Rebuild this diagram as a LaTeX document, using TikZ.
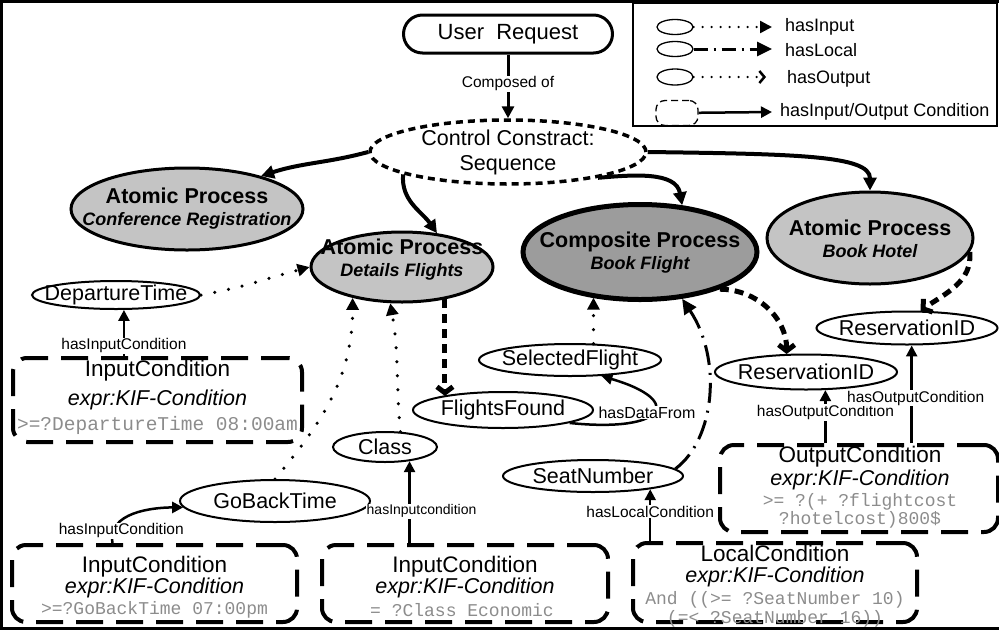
\documentclass[tikz,border=0pt]{standalone}
\usepackage{fontspec}
\setmainfont{Liberation Sans}
\setmonofont{Liberation Mono}
\usepackage{tikz}
\usetikzlibrary{shapes,arrows.meta}
\definecolor{procgray}{HTML}{C4C4C4}
\definecolor{compgray}{HTML}{9C9C9C}
\definecolor{codegray}{HTML}{8C8C8C}
\tikzstyle{Start} = [draw, rectangle, rounded corners=19pt, line width=3pt, minimum width=209pt, minimum height=38pt, font=\fontsize{22}{24}\selectfont]
\tikzstyle{Control} = [draw, ellipse, line width=3.5pt, dash pattern=on 7pt off 5pt, minimum width=276pt, minimum height=64pt, inner sep=0pt]
\tikzstyle{Process} = [draw, ellipse, fill=procgray, line width=3pt, inner sep=0pt]
\tikzstyle{Composite} = [Process, fill=compgray, line width=5pt]
\tikzstyle{Term} = [draw, ellipse, line width=2pt, inner sep=0pt]
\tikzstyle{Cond} = [draw, rectangle, rounded corners=14pt, line width=4pt, dash pattern=on 27pt off 13pt, inner sep=0pt]
\tikzstyle{Big} = [align=center, font=\fontsize{21.5}{25}\selectfont]
\tikzstyle{ProcText} = [align=center, font=\bfseries\fontsize{21.5}{22}\selectfont]
\tikzstyle{TermText} = [inner sep=0pt, font=\fontsize{21.5}{24}\selectfont]
\tikzstyle{Title} = [inner sep=0pt, font=\fontsize{22.5}{24}\selectfont]
\tikzstyle{Expr} = [inner sep=0pt, font=\itshape\fontsize{21.5}{24}\selectfont]
\tikzstyle{Code} = [inner sep=0pt, text=codegray, font=\ttfamily\fontsize{18}{20}\selectfont]
\tikzstyle{EdgeLabel} = [fill=white, inner sep=1pt, font=\fontsize{15.5}{17}\selectfont]
\tikzstyle{LegText} = [anchor=west, inner sep=0pt, font=\fontsize{18}{20}\selectfont]
\tikzstyle{CtrlArrow} = [line width=4pt, -{Triangle[length=13pt,width=13pt]}]
\tikzstyle{InArrow} = [line width=3.5pt, line cap=round, dash pattern=on 0pt off 14pt, -{Triangle[length=12pt,width=12pt]}]
\tikzstyle{OutArrow} = [line width=5pt, dash pattern=on 9pt off 6pt, -{Straight Barb[length=6pt,width=16pt]}]
\tikzstyle{LocalArrow} = [line width=3pt, dash pattern=on 20pt off 8pt on 2pt off 8pt, -{Triangle[length=15pt,width=14pt]}]
\tikzstyle{CondArrow} = [line width=2.5pt, -{Triangle[length=11pt,width=11pt]}]
\begin{document}
\begin{tikzpicture}[x=1pt,y=1pt]
    \useasboundingbox (0,0) rectangle (999,-630);
    % frame
    \draw[line width=3pt] (0,-1.5) -- (999,-1.5);
    \draw[line width=3pt] (1.5,0) -- (1.5,-630);
    \draw[line width=3pt] (0,-628) -- (999,-628);

    % request and control construct
    \node[Start] (request) at (508,-34) {User~~Request};
    \node[Control] (ctrl) at (508,-152) {};
    \node[Big] (ctrl-t) at (508,-152.5) {Control Constract:\\Sequence};
    \draw[line width=3pt, -{Triangle[length=12pt,width=12pt]}] (request) -- node[EdgeLabel, pos=0.46] (composed) {Composed of} (ctrl);

    % processes
    \node[Process, minimum width=232pt, minimum height=82pt] (reg) at (187,-209) {};
    \node[ProcText] (reg-t) at (187,-208.5) {Atomic Process\\{\itshape\fontsize{18}{18}\selectfont Conference Registration}};
    \node[Process, minimum width=182pt, minimum height=70pt] (det) at (402,-267) {};
    \node[ProcText] (det-t) at (402,-259.5) {Atomic Process\\{\itshape\fontsize{18}{18}\selectfont Details Flights}};
    \node[Composite, minimum width=234pt, minimum height=95pt] (comp) at (640,-252) {};
    \node[ProcText] (comp-t) at (640,-252.5) {Composite Process\\{\itshape\fontsize{18}{18}\selectfont Book Flight}};
    \node[Process, minimum width=206pt, minimum height=92pt] (hotel) at (870,-238) {};
    \node[ProcText] (hotel-t) at (870,-239) {Atomic Process\\{\itshape\fontsize{18}{18}\selectfont Book Hotel}};

    \draw[CtrlArrow] (ctrl.west) to[out=195,in=18] (reg.24);
    \draw[CtrlArrow] (ctrl.192) to[out=-95,in=125] (det.44);
    \draw[CtrlArrow] (ctrl.-16) to[out=5,in=100] (comp.48);
    \draw[CtrlArrow] (ctrl.east) .. controls +(150,-2) and +(0,35) .. (hotel.north);

    % parameters
    \node[Term, minimum width=168pt, minimum height=28pt] (dep) at (116,-295) {};
    \node[TermText] (dep-t) at (dep) {DepartureTime};
    \node[Term, minimum width=180pt, minimum height=36pt] (found) at (503,-410) {};
    \node[TermText] (found-t) at (found) {FlightsFound};
    \node[Term, minimum width=182pt, minimum height=32pt] (sel) at (570,-360) {};
    \node[TermText] (sel-t) at (sel) {SelectedFlight};
    \node[Term, minimum width=104pt, minimum height=30pt] (cls) at (385,-447) {};
    \node[TermText] (cls-t) at (cls) {Class};
    \node[Term, minimum width=190pt, minimum height=42pt] (back) at (275,-501) {};
    \node[TermText] (back-t) at (back) {GoBackTime};
    \node[Term, minimum width=180pt, minimum height=32pt] (seat) at (593,-476) {};
    \node[TermText] (seat-t) at (seat) {SeatNumber};
    \node[Term, minimum width=181pt, minimum height=33pt] (res1) at (907,-328) {};
    \node[TermText] (res1-t) at (res1) {ReservationID};
    \node[Term, minimum width=182pt, minimum height=35pt] (res2) at (806,-372) {};
    \node[TermText] (res2-t) at (res2) {ReservationID};

    % conditions
    \node[Cond, minimum width=289pt, minimum height=84pt] (ic1) at (157.5,-400) {};
    \node[Title] (ic1-a) at (157.5,-371) {InputCondition};
    \node[Expr] (ic1-b) at (157.5,-400) {expr:KIF-Condition};
    \node[Code, font=\ttfamily\fontsize{19.5}{21}\selectfont] (ic1-c) at (157.5,-425) {>=?DepartureTime 08:00am};
    \node[Cond, minimum width=285pt, minimum height=77pt] (ic2) at (154.5,-583.5) {};
    \node[Title] (ic2-a) at (154.5,-567) {InputCondition};
    \node[Expr] (ic2-b) at (154.5,-588) {expr:KIF-Condition};
    \node[Code] (ic2-c) at (154.5,-610) {>=?GoBackTime 07:00pm};
    \node[Cond, minimum width=286pt, minimum height=77pt] (ic3) at (465,-583.5) {};
    \node[Title] (ic3-a) at (465,-567) {InputCondition};
    \node[Expr] (ic3-b) at (465,-588) {expr:KIF-Condition};
    \node[Code] (ic3-c) at (462,-610) {= ?Class Economic};
    \node[Cond, minimum width=284pt, minimum height=79pt] (lc) at (775,-582.5) {};
    \node[Title] (lc-a) at (775,-553) {LocalCondition};
    \node[Expr] (lc-b) at (775,-577) {expr:KIF-Condition};
    \node[Code] (lc-c) at (775,-600) {And ((>= ?SeatNumber 10)};
    \node[Code] (lc-d) at (775,-619) {(=< ?SeatNumber 16))};
    \node[Cond, minimum width=278pt, minimum height=87pt] (oc) at (859,-488.5) {};
    \node[Title] (oc-a) at (860,-457) {OutputCondition};
    \node[Expr] (oc-b) at (860,-480) {expr:KIF-Condition};
    \node[Code] (oc-c) at (860,-502) {>= ?(+ ?flightcost};
    \node[Code] (oc-d) at (860,-520) {?hotelcost)800\$};

    % inputs, outputs, locals
    \draw[InArrow] (dep.east) to[out=10,in=195] (det.west);
    \draw[InArrow] (back.north) to[out=50,in=-90] (det.212);
    \draw[InArrow] (cls.45) to[out=95,in=-80] (det.252);
    \draw[InArrow] (sel.35) -- (sel.35 |- comp.223);
    \draw[OutArrow] (det.-37) -- (det.-37 |- found.167);
    \draw[OutArrow] (comp.-25) to[out=0,in=90] (res2.137);
    \draw[OutArrow] (hotel.-8) to[out=-85,in=35] (res1.52);
    \draw[LocalArrow] (seat.5) .. controls +(40,30) and +(40,-60) .. (comp.-48);
    \draw[CondArrow] (found.-11) .. controls +(95,-10) and +(85,-25) .. node[EdgeLabel, pos=0.5, xshift=-6pt, font=\fontsize{16}{18}\selectfont] (from) {hasDataFrom} (sel.-27);

    % condition links
    \draw[CondArrow] (ic1.north -| dep.-62) -- node[EdgeLabel, pos=0.22] (in1) {hasInputCondition} (dep.-62);
    \draw[CondArrow] ([xshift=-42pt]ic2.north) to[out=100,in=180] node[EdgeLabel, pos=0.15, xshift=8pt] (in2) {hasInputCondition} (back.184);
    \draw[CondArrow] (ic3.north -| cls.-30) -- node[EdgeLabel, pos=0.39, xshift=12pt, font=\fontsize{14}{16}\selectfont] (in3) {hasInputcondition} (cls.-30);
    \draw[CondArrow] (lc.north -| seat.-13) -- node[EdgeLabel, pos=0.57] (loc) {hasLocalCondition} (seat.-13);
    \draw[CondArrow] (oc.north -| res2.-43) -- node[EdgeLabel, pos=0.58] (out2) {hasOutputCondition} (res2.-43);
    \draw[CondArrow] (oc.north -| res1.-75) -- node[EdgeLabel, pos=0.46, xshift=4pt] (out1) {hasOutputCondition} (res1.-75);

    % legend
    \node[draw, line width=1.5pt, minimum width=364pt, minimum height=123pt, inner sep=0pt] (legend) at (815,-64.5) {};
    \node[Term, line width=1.3pt, minimum width=36pt, minimum height=15pt] (l1) at (675,-27) {};
    \node[Term, line width=1.3pt, minimum width=36pt, minimum height=15pt] (l2) at (675,-49) {};
    \node[Term, line width=1.3pt, minimum width=36pt, minimum height=16pt] (l3) at (675,-77) {};
    \node[draw, rounded corners=9pt, dash pattern=on 7pt off 4pt, line width=1.3pt, minimum width=42pt, minimum height=25pt] (l4) at (677,-113) {};
    \coordinate (l1e) at (772,-27);
    \coordinate (l2e) at (772,-49);
    \coordinate (l3e) at (766,-77);
    \coordinate (l4e) at (772,-112);
    \draw[InArrow, line width=2.5pt, dash pattern=on 0pt off 9pt] (l1) -- (l1e);
    \draw[LocalArrow, dash pattern=on 14pt off 6pt on 2pt off 6pt] (l2) -- (l2e);
    \draw[line width=2.5pt, line cap=round, dash pattern=on 0pt off 9pt, -{Straight Barb[length=5pt,width=12pt]}] (l3) -- (l3e);
    \draw[CondArrow] (l4) -- (l4e);
    \node[LegText] (t1) at (785,-27) {hasInput};
    \node[LegText] (t2) at (785,-50) {hasLocal};
    \node[LegText] (t3) at (787,-79) {hasOutput};
    \node[LegText] (t4) at (780,-112) {hasInput/Output Condition};
\end{tikzpicture}
\end{document}
